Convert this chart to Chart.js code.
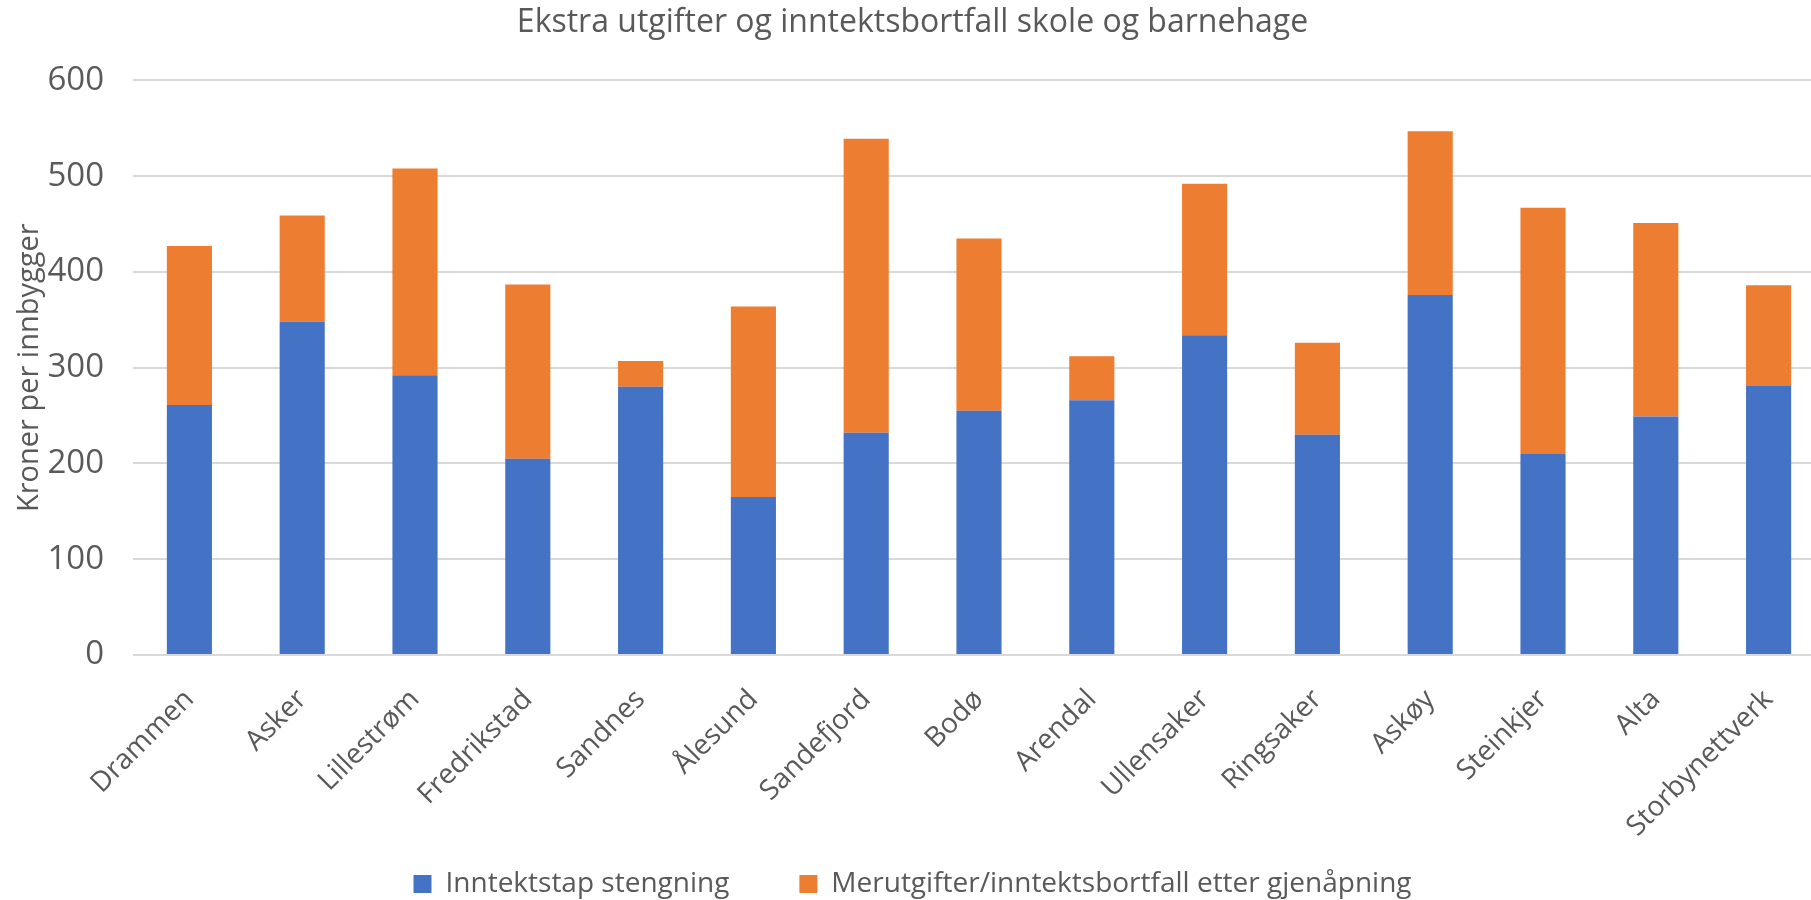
<!DOCTYPE html>
<html>
<head>
<meta charset="utf-8">
<script src="https://cdn.jsdelivr.net/npm/chart.js@4.4.1/dist/chart.umd.min.js"></script>
<style>
  html, body { margin: 0; padding: 0; background: #fff; overflow: hidden; }
  #wrap { width: 1832px; height: 900px; }
</style>
</head>
<body>
<div id="wrap"><canvas id="chart"></canvas></div>
<script>
const categories = ['Drammen', 'Asker', 'Lillestrøm', 'Fredrikstad', 'Sandnes', 'Ålesund', 'Sandefjord', 'Bodø', 'Arendal', 'Ullensaker', 'Ringsaker', 'Askøy', 'Steinkjer', 'Alta', 'Storbynettverk'];
const inntektstap = [261, 348, 292, 205, 280, 165, 232, 255, 266, 334, 230, 376, 210, 249, 281];
const merutgifter = [166, 111, 216, 182, 27, 199, 307, 180, 46, 158, 96, 171, 257, 202, 105];
const yMin = 0;
const yMax = 600;
const yStep = 100;

const textColor = '#595959';
const gridColor = '#D9D9D9';
const fontFamily = "'Open Sans', sans-serif";

// long rotated x labels run past the axis box into the legend band; don't clip them
const unclipLabels = {
  id: 'unclipLabels',
  afterLayout(chart) {
    chart.scales.x.bottom = chart.height;
  }
};

const ctx = document.getElementById('chart');
new Chart(ctx, {
  type: 'bar',
  data: {
    labels: categories,
    datasets: [
      {
        label: 'Inntektstap stengning',
        data: inntektstap,
        backgroundColor: '#4472C4',
        barPercentage: 1,
        categoryPercentage: 0.4
      },
      {
        label: 'Merutgifter/inntektsbortfall etter gjenåpning',
        data: merutgifter,
        backgroundColor: '#ED7D31',
        barPercentage: 1,
        categoryPercentage: 0.4
      }
    ]
  },
  plugins: [unclipLabels],
  options: {
    responsive: true,
    maintainAspectRatio: false,
    animation: false,
    layout: { padding: { left: 0, right: 7, top: 0, bottom: -8 } },
    plugins: {
      title: {
        display: true,
        text: 'Ekstra utgifter og inntektsbortfall skole og barnehage',
        color: textColor,
        font: { family: fontFamily, size: 32, weight: 'normal' },
        padding: { top: 4, bottom: 38 }
      },
      legend: {
        position: 'bottom',
        labels: {
          color: textColor,
          font: { family: fontFamily, size: 28 },
          boxWidth: 18,
          boxHeight: 18,
          padding: 70
        }
      },
      tooltip: { enabled: false }
    },
    scales: {
      x: {
        stacked: true,
        grid: { display: false },
        border: { display: false },
        ticks: {
          color: textColor,
          font: { family: fontFamily, size: 28 },
          autoSkip: false,
          minRotation: 45,
          maxRotation: 45,
          padding: 20
        },
        afterFit: (scale) => { scale.height = 145; }
      },
      y: {
        stacked: true,
        min: yMin,
        max: yMax,
        grid: { color: gridColor, lineWidth: 2, drawTicks: false },
        border: { display: false },
        ticks: {
          stepSize: yStep,
          color: textColor,
          font: { family: fontFamily, size: 33 },
          padding: 29
        },
        title: {
          display: true,
          text: 'Kroner per innbygger',
          color: textColor,
          font: { family: fontFamily, size: 29 },
          padding: { top: 12, bottom: 0 }
        },
        afterFit: (scale) => { scale.width = 133; }
      }
    }
  }
});
</script>
</body>
</html>
